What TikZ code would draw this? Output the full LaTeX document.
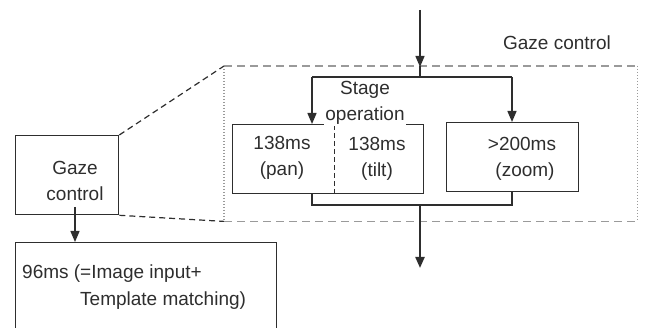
\documentclass[tikz,border=0pt]{standalone}
\usepackage{fontspec}
\setmainfont{Liberation Sans}
\usetikzlibrary{arrows.meta,calc}
\definecolor{ink}{HTML}{2E2E2E}
\definecolor{zoneline}{HTML}{9A9A9A}
\begin{document}
\begin{tikzpicture}[x=1pt,y=-1pt,
  every node/.style={font=\fontsize{19}{26}\selectfont, text=ink, inner sep=0pt},
  box/.style={draw=ink, line width=1.3pt, anchor=north west},
  flow/.style={draw=ink, line width=1.4pt},
  tip/.style={-{Triangle[length=11pt,width=9pt]}},
  proj/.style={draw=ink, line width=1.2pt, dash pattern=on 6pt off 4pt},
  zonedash/.style={draw=zoneline, line width=1.5pt, dash pattern=on 8pt off 5pt},
  zonedot/.style={draw=zoneline, line width=1.5pt, dash pattern=on 1.5pt off 1.5pt}]
\useasboundingbox (0,0) rectangle (645,328);

% left: overview boxes
\node[box, minimum width=103pt, minimum height=79pt] (gaze) at (15,135) {};
\node[align=center] (gazetxt) at (75,181) {Gaze\\control};
\node[box, minimum width=261pt, minimum height=90pt] (proc) at (15,242) {};
\node[anchor=base west] (proc1) at (22,279) {96ms (=Image input+};
\node[anchor=base west] (proc2) at (80,306) {Template matching)};

% right: detail region
\node[anchor=north west, minimum width=413pt, minimum height=155pt] (zone) at (224,66) {};
\draw[zonedash] (zone.north west) -- (zone.north east);
\draw[zonedash] (zone.south west) -- (zone.south east);
\draw[zonedot] (zone.north west) -- (zone.south west);
\draw[zonedot] (zone.north east) -- (zone.south east);
\node (zonetitle) at (557,43) {Gaze control};

% projection from the overview box to the detail region
\draw[proj] (gaze.north east) -- (zone.north west);
\draw[proj] (gaze.south east) -- (zone.south west);

% stage boxes
\node[box, minimum width=191pt, minimum height=69pt] (pt) at (232,124) {};
\node[box, minimum width=132pt, minimum height=69pt] (zm) at (446,122) {};
\coordinate (split) at (334,117);
\draw[draw=ink, line width=1pt, dash pattern=on 5pt off 3pt] (split) -- (split |- pt.south);
\node[align=center] (pan) at (282,158) {138ms\\(pan)};
\node[align=center] (tilt) at (377,159) {138ms\\(tilt)};
\node[align=center] (zoomtxt) at (525,159) {\hspace*{-6pt}>200ms\\(zoom)};
\node[align=center, fill=white, inner sep=1pt] (stage) at (365,103) {Stage\\operation};

% flow lines
\coordinate (in) at (420,10);
\coordinate (split top) at (420,77);
\coordinate (lbar) at (312,77);
\coordinate (rbar) at (512,77);
\coordinate (join) at (420,205);
\coordinate (lbot) at (312,205);
\coordinate (rbot) at (512,205);
\coordinate (out) at (420,268);
\draw[flow, tip] (in) -- (420,67);
\draw[flow] (420,66) -- (split top);
\draw[flow] (lbar) -- (rbar);
\draw[flow, tip] (lbar) -- (lbar |- pt.north);
\draw[flow, tip] (rbar) -- (rbar |- zm.north);
\draw[flow] (lbot |- pt.south) -- (lbot) -- (rbot) -- (rbot |- zm.south);
\draw[flow, line width=2.2pt, tip] (join) -- (out);

% overview arrow
\coordinate (gout) at (75,207);
\draw[flow, tip] (gout) -- (gout |- proc.north);
\end{tikzpicture}
\end{document}
